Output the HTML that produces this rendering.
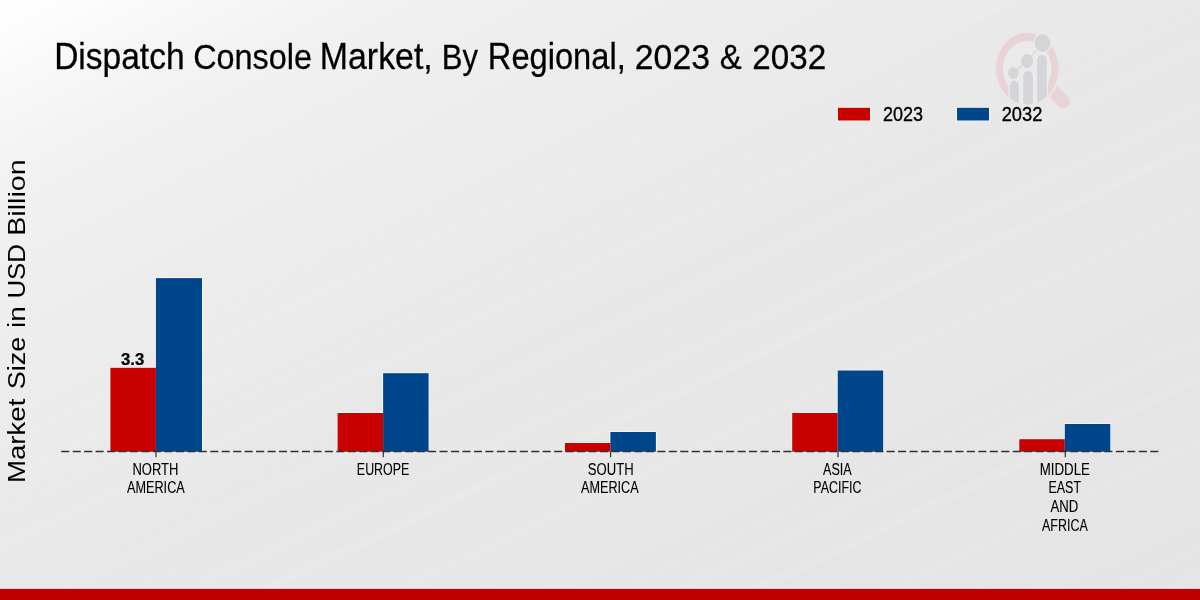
<!DOCTYPE html>
<html>
<head>
<meta charset="utf-8">
<title>Dispatch Console Market, By Regional, 2023 &amp; 2032</title>
<style>
  html, body { margin: 0; padding: 0; }
  body { width: 1200px; height: 600px; overflow: hidden; background: #e9e9e9; font-family: "Liberation Sans", sans-serif; }
  svg { display: block; position: absolute; left: 0; top: 0; }
  text { font-family: "Liberation Sans", sans-serif; fill: #000; }
  .t { filter: grayscale(1); }
</style>
</head>
<body>
<svg width="1200" height="600" viewBox="0 0 1200 600">
  <defs>
    <linearGradient id="bg" gradientUnits="objectBoundingBox" x1="0" y1="0" x2="1" y2="1">
      <stop offset="0" stop-color="#ffffff"/>
      <stop offset="0.04" stop-color="#fcfcfc"/>
      <stop offset="0.08" stop-color="#f8f8f8"/>
      <stop offset="0.125" stop-color="#f4f4f4"/>
      <stop offset="0.167" stop-color="#f1f1f1"/>
      <stop offset="0.25" stop-color="#eeeeee"/>
      <stop offset="0.367" stop-color="#ebebeb"/>
      <stop offset="0.5" stop-color="#e8e8e8"/>
      <stop offset="0.65" stop-color="#e7e7e7"/>
      <stop offset="0.85" stop-color="#e5e5e5"/>
      <stop offset="1.0" stop-color="#e4e4e4"/>
    </linearGradient>
    <linearGradient id="sk" x1="0" y1="0" x2="0" y2="1">
      <stop offset="0" stop-color="#fff" stop-opacity="0"/>
      <stop offset="0.5" stop-color="#fff" stop-opacity="1"/>
      <stop offset="1" stop-color="#fff" stop-opacity="0"/>
    </linearGradient>
    <pattern id="streaks" width="400" height="211" patternUnits="userSpaceOnUse" patternTransform="rotate(-25.5)">
      <rect x="0" y="4" width="400" height="18" fill="url(#sk)" opacity="0.11"/>
      <rect x="0" y="37" width="400" height="9" fill="url(#sk)" opacity="0.08"/>
      <rect x="0" y="58" width="400" height="26" fill="url(#sk)" opacity="0.10"/>
      <rect x="0" y="101" width="400" height="11" fill="url(#sk)" opacity="0.07"/>
      <rect x="0" y="126" width="400" height="20" fill="url(#sk)" opacity="0.10"/>
      <rect x="0" y="163" width="400" height="8" fill="url(#sk)" opacity="0.07"/>
      <rect x="0" y="180" width="400" height="22" fill="url(#sk)" opacity="0.09"/>
    </pattern>
    <linearGradient id="skfade" gradientUnits="objectBoundingBox" x1="0" y1="0" x2="1" y2="1">
      <stop offset="0" stop-color="#fff" stop-opacity="0"/>
      <stop offset="0.12" stop-color="#fff" stop-opacity="0.5"/>
      <stop offset="0.3" stop-color="#fff" stop-opacity="1"/>
      <stop offset="1" stop-color="#fff" stop-opacity="1"/>
    </linearGradient>
    <mask id="skmask"><rect x="0" y="0" width="1200" height="600" fill="url(#skfade)"/></mask>
    <clipPath id="lensclip">
      <ellipse cx="1027.3" cy="68.6" rx="31.3" ry="35.8"/>
    </clipPath>
  </defs>

  <!-- background -->
  <rect x="0" y="0" width="1200" height="600" fill="url(#bg)"/>
  <rect x="0" y="0" width="1200" height="600" fill="url(#streaks)" mask="url(#skmask)"/>

  <!-- watermark logo -->
  <g id="logo">
    <!-- handle -->
    <line x1="1050" y1="88" x2="1063.2" y2="101.4" stroke="#e8d4d7" stroke-width="13.5" stroke-linecap="round"/>
    <!-- gap between lens and handle -->
    <ellipse cx="1027.3" cy="68.6" rx="32.4" ry="37" fill="none" stroke="#e8e8e8" stroke-width="2.4"/>
    <!-- lens ring -->
    <ellipse cx="1027.3" cy="68.6" rx="31.3" ry="35.8" fill="#e8d4d7"/>
    <ellipse cx="1027.3" cy="68.6" rx="24.2" ry="27.6" fill="#eaeaea"/>
    <!-- bars (clipped by lens) -->
    <g clip-path="url(#lensclip)">
      <rect x="1008.6" y="79.5" width="11.6" height="40" rx="5.8" ry="6" fill="#ebebeb"/>
      <rect x="1022" y="69.6" width="12.2" height="50" rx="6.1" ry="6" fill="#ebebeb"/>
      <rect x="1035.9" y="53.8" width="12.2" height="60" rx="6.1" ry="6" fill="#ebebeb"/>
      <rect x="1018.5" y="84" width="5.2" height="30" fill="#ebebeb"/>
      <rect x="1032.5" y="75" width="5.2" height="40" fill="#ebebeb"/>
      <rect x="1009.9" y="80.8" width="9" height="40" rx="4.5" ry="5" fill="#d4d5d9"/>
      <rect x="1023.2" y="70.9" width="9.7" height="50" rx="4.85" ry="5.2" fill="#d4d5d9"/>
      <rect x="1037.1" y="55.1" width="9.7" height="60" rx="4.85" ry="5.2" fill="#d4d5d9"/>
    </g>
    <!-- connectors -->
    <line x1="1013.3" y1="73" x2="1027.2" y2="61" stroke="#d4d5d9" stroke-width="1.1"/>
    <line x1="1027.2" y1="61" x2="1042.5" y2="43" stroke="#d4d5d9" stroke-width="1.1"/>
    <!-- dots -->
    <ellipse cx="1042.5" cy="43" rx="9" ry="10.3" fill="#ebebeb"/>
    <ellipse cx="1042.5" cy="43" rx="7.7" ry="8.9" fill="#d4d5d9"/>
    <ellipse cx="1027.2" cy="61" rx="6" ry="6.9" fill="#d4d5d9"/>
    <ellipse cx="1013.3" cy="73" rx="5.4" ry="6" fill="#d4d5d9"/>
  </g>

  <!-- title -->
  <g class="t"><text transform="translate(54.15,68.80) scale(0.9314,1)" font-size="36.0" stroke="#000" stroke-width="0.28">Dispatch</text>
  <text transform="translate(193.22,68.80) scale(0.8988,1)" font-size="36.0" stroke="#000" stroke-width="0.28">Console</text>
  <text transform="translate(319.82,68.80) scale(0.9408,1)" font-size="36.0" stroke="#000" stroke-width="0.28">Market,</text>
  <text transform="translate(441.85,68.80) scale(0.8621,1)" font-size="36.0" stroke="#000" stroke-width="0.28">By</text>
  <text transform="translate(487.82,68.80) scale(0.9068,1)" font-size="36.0" stroke="#000" stroke-width="0.28">Regional,</text>
  <text transform="translate(634.85,68.80) scale(0.9379,1)" font-size="36.0" stroke="#000" stroke-width="0.28">2023</text>
  <text transform="translate(719.73,68.80) scale(0.9135,1)" font-size="36.0" stroke="#000" stroke-width="0.28">&amp;</text>
  <text transform="translate(752.23,68.80) scale(0.9232,1)" font-size="36.0" stroke="#000" stroke-width="0.28">2032</text></g>

  <!-- legend -->
  <rect x="837.1" y="106.9" width="33.8" height="14.5" fill="#fbf9f6" opacity="0.8"/>
  <rect x="838" y="107.8" width="32" height="12.7" fill="#c80000"/>
  <g class="t"><text transform="translate(883.02,121.10) scale(0.9198,1)" font-size="19.6" stroke="#000" stroke-width="0.35">2023</text></g>
  <rect x="956.1" y="106.9" width="33.8" height="14.5" fill="#fbf9f6" opacity="0.8"/>
  <rect x="957" y="107.8" width="32" height="12.7" fill="#00468b"/>
  <g class="t"><text transform="translate(1001.66,121.10) scale(0.9335,1)" font-size="19.6" stroke="#000" stroke-width="0.35">2032</text></g>

  <!-- y axis label -->
  <g class="t"><text transform="translate(25.00,483.10) rotate(-90) scale(1.1375,1)" font-size="24.3">Market</text>
  <text transform="translate(25.00,389.26) rotate(-90) scale(1.1102,1)" font-size="24.3">Size</text>
  <text transform="translate(25.00,327.88) rotate(-90) scale(1.1582,1)" font-size="24.3">in</text>
  <text transform="translate(25.00,298.58) rotate(-90) scale(1.0647,1)" font-size="24.3">USD</text>
  <text transform="translate(25.00,235.79) rotate(-90) scale(1.1790,1)" font-size="24.3">Billion</text></g>

  <!-- bars -->
  <g>
    <rect x="109.5" y="366.9" width="47.3" height="84.1" fill="#fbf9f6" opacity="0.8"/>
    <rect x="155.0" y="277.2" width="47.9" height="173.8" fill="#fbf9f6" opacity="0.8"/>
    <rect x="336.7" y="412.1" width="47.3" height="38.9" fill="#fbf9f6" opacity="0.8"/>
    <rect x="382.2" y="372.3" width="47.3" height="78.7" fill="#fbf9f6" opacity="0.8"/>
    <rect x="564.0" y="442.1" width="47.3" height="8.9" fill="#fbf9f6" opacity="0.8"/>
    <rect x="609.5" y="431.1" width="47.3" height="19.9" fill="#fbf9f6" opacity="0.8"/>
    <rect x="791.3" y="412.1" width="47.3" height="38.9" fill="#fbf9f6" opacity="0.8"/>
    <rect x="836.8" y="369.6" width="47.3" height="81.4" fill="#fbf9f6" opacity="0.8"/>
    <rect x="1018.4" y="438.3" width="47.3" height="12.7" fill="#fbf9f6" opacity="0.8"/>
    <rect x="1063.9" y="423.1" width="47.3" height="27.9" fill="#fbf9f6" opacity="0.8"/>
    <rect x="110.4" y="367.8" width="45.5" height="83.9" fill="#c80000"/>
    <rect x="155.9" y="278.1" width="46.1" height="173.6" fill="#00468b"/>

    <rect x="337.6" y="413.0" width="45.5" height="38.7" fill="#c80000"/>
    <rect x="383.1" y="373.2" width="45.5" height="78.5" fill="#00468b"/>

    <rect x="564.9" y="443.0" width="45.5" height="8.7" fill="#c80000"/>
    <rect x="610.4" y="432.0" width="45.5" height="19.7" fill="#00468b"/>

    <rect x="792.2" y="413.0" width="45.5" height="38.7" fill="#c80000"/>
    <rect x="837.7" y="370.5" width="45.5" height="81.2" fill="#00468b"/>

    <rect x="1019.3" y="439.2" width="45.5" height="12.5" fill="#c80000"/>
    <rect x="1064.8" y="424.0" width="45.5" height="27.7" fill="#00468b"/>
  </g>

  <!-- value label -->
  <g class="t"><text transform="translate(121.03,364.90) scale(1.0569,1)" font-size="15.9" font-weight="bold" stroke="#000" stroke-width="0.25">3.3</text></g>

  <!-- axis -->
  <line x1="61.2" y1="451.6" x2="1158.4" y2="451.6" stroke="#303030" stroke-width="1.5" stroke-dasharray="8.07 3.394"/>
  <g stroke="#333" stroke-width="1.2">
    <line x1="156" y1="451.6" x2="156" y2="457.2"/>
    <line x1="383.3" y1="451.6" x2="383.3" y2="457.2"/>
    <line x1="610.6" y1="451.6" x2="610.6" y2="457.2"/>
    <line x1="838" y1="451.6" x2="838" y2="457.2"/>
    <line x1="1065.3" y1="451.6" x2="1065.3" y2="457.2"/>
  </g>

  <!-- tick labels -->
  <g class="t">
    <text transform="translate(132.48,474.80) scale(0.7789,1)" font-size="16.7" stroke="#000" stroke-width="0.12">NORTH</text>
    <text transform="translate(127.02,493.00) scale(0.7591,1)" font-size="16.7" stroke="#000" stroke-width="0.12">AMERICA</text>
    <text transform="translate(356.82,474.80) scale(0.7466,1)" font-size="16.7" stroke="#000" stroke-width="0.12">EUROPE</text>
    <text transform="translate(587.85,474.80) scale(0.7842,1)" font-size="16.7" stroke="#000" stroke-width="0.12">SOUTH</text>
    <text transform="translate(581.02,493.00) scale(0.7578,1)" font-size="16.7" stroke="#000" stroke-width="0.12">AMERICA</text>
    <text transform="translate(823.02,474.80) scale(0.7528,1)" font-size="16.7" stroke="#000" stroke-width="0.12">ASIA</text>
    <text transform="translate(813.32,493.00) scale(0.7445,1)" font-size="16.7" stroke="#000" stroke-width="0.12">PACIFIC</text>
    <text transform="translate(1039.75,474.80) scale(0.7963,1)" font-size="16.7" stroke="#000" stroke-width="0.12">MIDDLE</text>
    <text transform="translate(1048.52,493.00) scale(0.7448,1)" font-size="16.7" stroke="#000" stroke-width="0.12">EAST</text>
    <text transform="translate(1050.52,512.00) scale(0.7901,1)" font-size="16.7" stroke="#000" stroke-width="0.12">AND</text>
    <text transform="translate(1042.02,531.00) scale(0.7474,1)" font-size="16.7" stroke="#000" stroke-width="0.12">AFRICA</text>
  </g>

  <!-- bottom band -->
  <rect x="0" y="587.6" width="1200" height="1.4" fill="#fdfdfd"/>
  <rect x="0" y="588.8" width="1200" height="11.2" fill="#c00000"/>
</svg>
</body>
</html>
